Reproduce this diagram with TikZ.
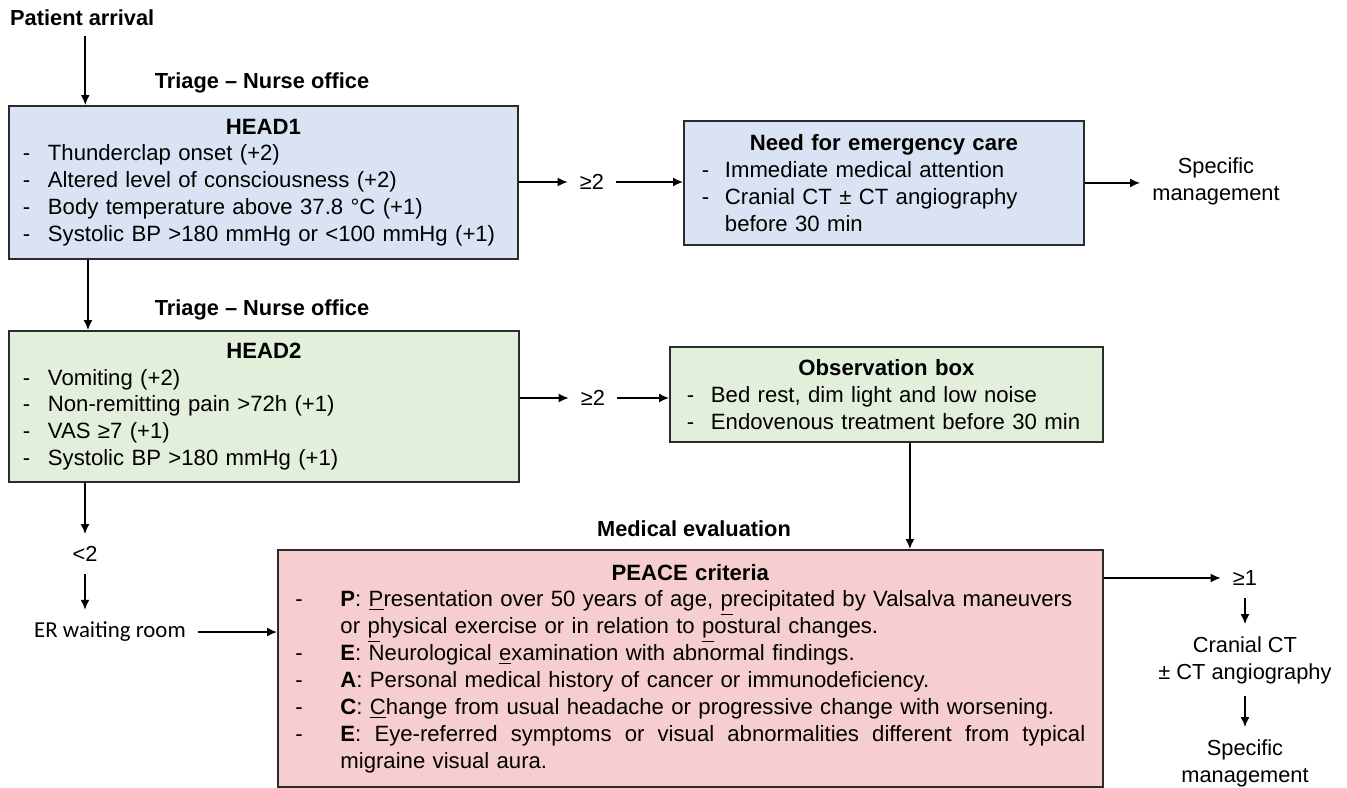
\documentclass[tikz,border=0pt]{standalone}
\usepackage{fontspec}
\setmainfont{Liberation Sans}
\newfontfamily\erfont{Carlito}
\usetikzlibrary{arrows.meta,positioning}

\definecolor{headblue}{HTML}{DAE3F3}
\definecolor{headgreen}{HTML}{E2EFDA}
\definecolor{peacepink}{HTML}{F6CECF}
\definecolor{boxline}{HTML}{2B2B2B}

% list line with a dash in front
\newcommand{\dashitem}[2]{\makebox[#1][l]{-}#2}
\newcommand{\boxtitle}[1]{\makebox[\hsize]{\textbf{#1}}}
\newcommand{\fullline}[1]{\hbox to 14.9cm{\spaceskip=0.278em plus 1em\relax #1}}

\tikzset{
  box/.style={draw=boxline, line width=1.1pt, anchor=north west, inner ysep=0pt,
    align=left, font=\fontsize{12.6}{15.3}\selectfont},
  lbl/.style={font=\fontsize{12.4}{15.3}\selectfont, inner sep=0.24cm},
  hd/.style={font=\fontsize{12.4}{15.3}\selectfont\bfseries},
  arr/.style={-{Latex[length=0.2cm,width=0.18cm]}, line width=0.9pt},
}

\begin{document}
\begin{tikzpicture}[x=0.02cm,y=-0.02cm]
\useasboundingbox (0,0) rectangle (1347,788);

% triage, first step
\node[hd, anchor=west] (patient) at (4,18) {Patient arrival};
\node[hd] (triage1) at (262,83) {Triage – Nurse office};
\node[box, fill=headblue, minimum width=10.18cm, minimum height=3.06cm,
  inner xsep=0.28cm, text width=9.62cm] (head1) at (8,105) {%
  \boxtitle{HEAD1}\\
  \dashitem{0.5cm}{Thunderclap onset (+2)}\\
  \dashitem{0.5cm}{Altered level of consciousness (+2)}\\
  \dashitem{0.5cm}{Body temperature above 37.8 °C (+1)}\\
  \dashitem{0.5cm}{Systolic BP >180 mmHg or <100 mmHg (+1)}};
\node[lbl] (ge1) at (592,182) {≥2};
\node[box, fill=headblue, minimum width=8cm, minimum height=2.48cm,
  inner xsep=0.36cm, text width=7.28cm] (emerg) at (683,120) {%
  \boxtitle{Need for emergency care}\\
  \dashitem{0.46cm}{Immediate medical attention}\\
  \dashitem{0.46cm}{Cranial CT ± CT angiography}\\
  \hspace*{0.46cm}before 30 min};
\node[lbl, align=center] (spec1) at (1216,181) {Specific\\management};

% triage, second step
\node[hd] (triage2) at (262,310) {Triage – Nurse office};
\node[box, fill=headgreen, minimum width=10.2cm, minimum height=3.02cm,
  inner xsep=0.28cm, text width=9.64cm] (head2) at (8,330) {%
  \boxtitle{HEAD2}\\
  \dashitem{0.5cm}{Vomiting (+2)}\\
  \dashitem{0.5cm}{Non-remitting pain >72h (+1)}\\
  \dashitem{0.5cm}{VAS ≥7 (+1)}\\
  \dashitem{0.5cm}{Systolic BP >180 mmHg (+1)}};
\node[lbl] (ge2) at (593,398) {≥2};
\node[box, fill=headgreen, minimum width=8.66cm, minimum height=1.9cm,
  inner xsep=0.34cm, text width=7.98cm] (obs) at (669,346) {%
  \boxtitle{Observation box}\\
  \dashitem{0.48cm}{Bed rest, dim light and low noise}\\
  \dashitem{0.48cm}{Endovenous treatment before 30 min}};
\node[lbl] (lt2) at (85,554) {<2};
\node[lbl, font=\fontsize{13}{15.3}\erfont] (er) at (110,632) {ER waiting room};

% medical evaluation
\node[hd] (medeval) at (694,529) {Medical evaluation};
\node[box, fill=peacepink, minimum width=16.5cm, minimum height=4.74cm,
  inner xsep=0.35cm, text width=15.8cm] (peace) at (277,549) {%
  \boxtitle{PEACE criteria}\\
  \dashitem{0.9cm}{\textbf{P}: \underline{P}resentation over 50 years of age, \underline{p}recipitated by Valsalva maneuvers}\\
  \hspace*{0.9cm}or \underline{p}hysical exercise or in relation to \underline{p}ostural changes.\\
  \dashitem{0.9cm}{\textbf{E}: Neurological \underline{e}xamination with abnormal findings.}\\
  \dashitem{0.9cm}{\textbf{A}: Personal medical history of cancer or immunodeficiency.}\\
  \dashitem{0.9cm}{\textbf{C}: \underline{C}hange from usual headache or progressive change with worsening.}\\
  \dashitem{0.9cm}{\fullline{\textbf{E}: Eye-referred symptoms or visual abnormalities different from typical}}\\
  \hspace*{0.9cm}migraine visual aura.};
\node[lbl] (ge3) at (1245,578) {≥1};
\node[lbl, align=center] (ct) at (1245,660) {Cranial CT\\± CT angiography};
\node[lbl, align=center] (spec2) at (1245,763) {Specific\\management};

% connectors
\draw[arr, shorten <=0.08cm] ([xshift=0.06cm]patient.south) -- ([xshift=0.06cm]patient.south |- head1.north);
\draw[arr] ([xshift=1.6cm]head1.south west) -- ([xshift=1.6cm]head1.south west |- head2.north);
\draw[arr] (head1.east |- ge1) -- (ge1);
\draw[arr] (ge1) -- (emerg.west |- ge1);
\draw[arr] (emerg.east) -- (emerg.east -| spec1.west);
\draw[arr] (head2.east |- ge2) -- (ge2);
\draw[arr] (ge2) -- (obs.west |- ge2);
\draw[arr] ([xshift=0.47cm]obs.south) -- ([xshift=0.47cm]obs.south |- peace.north);
\draw[arr] ([xshift=1.54cm]head2.south west) -- (lt2);
\draw[arr] (lt2) -- (lt2 |- er.north);
\draw[arr] (er) -- (er -| peace.west);
\draw[arr] (peace.east |- ge3) -- (ge3);
\draw[arr] (ge3) -- (ct);
\draw[arr] (ct) -- (spec2);
\end{tikzpicture}
\end{document}
